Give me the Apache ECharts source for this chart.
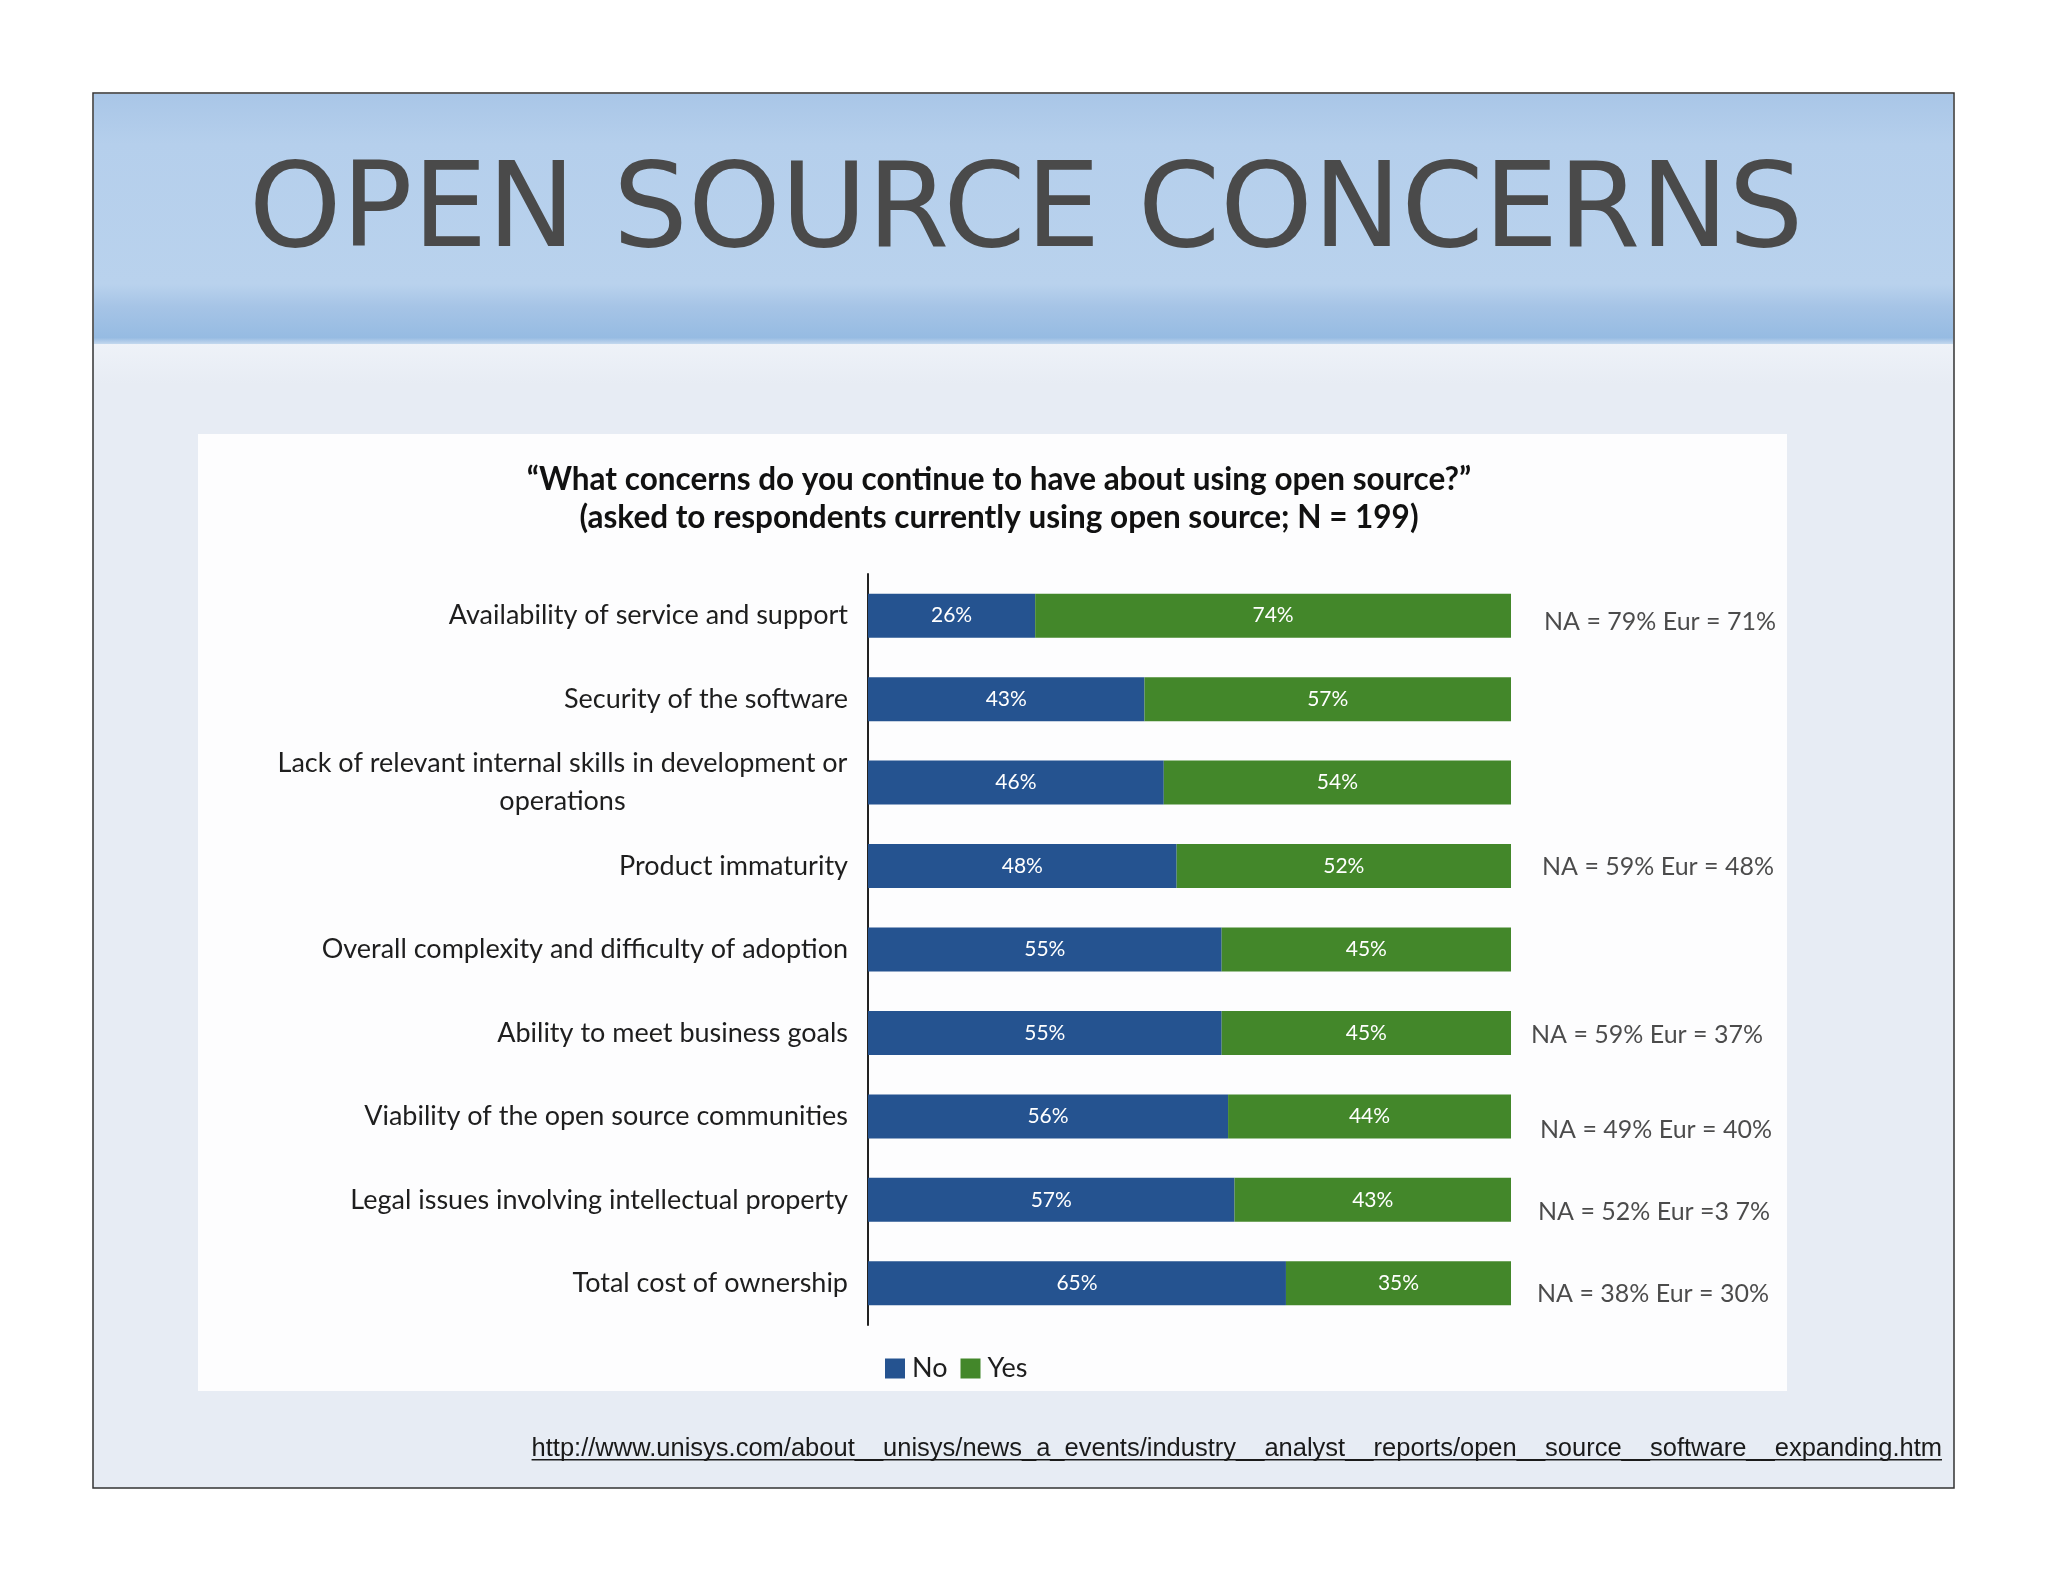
<!DOCTYPE html>
<html>
<head>
<meta charset="utf-8">
<script src="https://cdn.jsdelivr.net/npm/echarts@6/dist/echarts.min.js"></script>
<style>
  html, body { margin: 0; padding: 0; background: #ffffff; }
  #chart { width: 2048px; height: 1582px; }
</style>
</head>
<body>
<div id="chart"></div>
<script>
// ---- data ----
const slideTitle = 'OPEN SOURCE CONCERNS';
const chartTitleLines = [
  '\u201CWhat concerns do you continue to have about using open source?\u201D',
  '(asked to respondents currently using open source; N = 199)'
];
const categories = [
  'Availability of service and support',
  'Security of the software',
  'Lack of relevant internal skills in development or\noperations',
  'Product immaturity',
  'Overall complexity and difficulty of adoption',
  'Ability to meet business goals',
  'Viability of the open source communities',
  'Legal issues involving intellectual property',
  'Total cost of ownership'
];
const noValues = [26, 43, 46, 48, 55, 55, 56, 57, 65];
const yesValues = [74, 57, 54, 52, 45, 45, 44, 43, 35];
const regionNotes = [
  'NA = 79% Eur = 71%',
  '',
  '',
  'NA = 59% Eur = 48%',
  '',
  'NA = 59% Eur = 37%',
  'NA = 49% Eur = 40%',
  'NA = 52% Eur =3 7%',
  'NA = 38% Eur = 30%'
];
const sourceUrl = 'http://www.unisys.com/about__unisys/news_a_events/industry__analyst__reports/open__source__software__expanding.htm';

// ---- styling helpers (positions / styles only) ----
const noteNudge = [[3, 6], [0, 0], [0, 0], [1, 1], [0, 0], [-10, 2], [-1, 14], [-3, 12], [-4, 11]];
const FONT = 'Lato, "Open Sans", sans-serif';
const LABEL_SIZE = 27;
const BLUE = '#255390';
const GREEN = '#43872a';
const TXT = '#1e1e1e';

const urlFont = '25.5px "Liberation Sans", Arial, sans-serif';
const mc = document.createElement('canvas').getContext('2d');
mc.font = urlFont;
const urlWidth = mc.measureText(sourceUrl).width;
mc.font = LABEL_SIZE + 'px ' + FONT;
let multiLineWidth = 0;
categories.forEach(function (c) {
  if (c.indexOf('\n') >= 0) {
    c.split('\n').forEach(function (l) { multiLineWidth = Math.max(multiLineWidth, mc.measureText(l).width); });
  }
});
multiLineWidth = Math.ceil(multiLineWidth) + 1;

const chart = echarts.init(document.getElementById('chart'), null, { renderer: 'canvas' });

const option = {
  animation: false,
  backgroundColor: '#ffffff',
  graphic: [
    { type: 'rect', z: -10, shape: { x: 93, y: 93, width: 1861, height: 1395 },
      style: { fill: '#e7ecf4', stroke: '#333333', lineWidth: 1.5 } },
    { type: 'rect', z: -9, shape: { x: 94, y: 344, width: 1859, height: 40 },
      style: { fill: new echarts.graphic.LinearGradient(0, 0, 0, 1, [
        { offset: 0, color: '#eef2f8' },
        { offset: 1, color: '#e7ecf4' }
      ]) } },
    { type: 'rect', z: -9, shape: { x: 94, y: 94, width: 1859, height: 250 },
      style: { fill: new echarts.graphic.LinearGradient(0, 0, 0, 1, [
        { offset: 0, color: '#a9c6e7' },
        { offset: 0.2, color: '#b5cfec' },
        { offset: 0.76, color: '#b9d2ed' },
        { offset: 0.85, color: '#a6c4e6' },
        { offset: 0.975, color: '#96bbe2' },
        { offset: 1, color: '#c4d8ee' }
      ]) } },
    { type: 'rect', z: -8, shape: { x: 198, y: 434, width: 1589, height: 957 },
      style: { fill: '#fdfdfe' } },
    { type: 'text', z: 5, x: 1026, y: 215,
      style: { text: slideTitle, fill: '#4a4a4a', font: 'normal 118px "DejaVu Sans", Lato, sans-serif',
        textAlign: 'center', textVerticalAlign: 'middle' } },
    { type: 'text', z: 5, x: 999, y: 479.5,
      style: { text: chartTitleLines[0], fill: '#111111', font: 'bold 31.5px Lato, "Open Sans", sans-serif',
        textAlign: 'center', textVerticalAlign: 'middle' } },
    { type: 'text', z: 5, x: 999, y: 517.5,
      style: { text: chartTitleLines[1], fill: '#111111', font: 'bold 31.5px Lato, "Open Sans", sans-serif',
        textAlign: 'center', textVerticalAlign: 'middle' } },
    { type: 'text', z: 5, x: 1942, y: 1449,
      style: { text: sourceUrl, fill: '#1a1a1a', font: urlFont,
        textAlign: 'right', textVerticalAlign: 'middle' } },
    { type: 'rect', z: 5, shape: { x: 1942 - urlWidth, y: 1459, width: urlWidth, height: 1.6 },
      style: { fill: '#1a1a1a' } }
  ],
  legend: {
    data: ['No', 'Yes'],
    left: 880, top: 1350,
    icon: 'rect', itemWidth: 20, itemHeight: 20, itemGap: 13,
    textStyle: { fontFamily: FONT, fontSize: 27, color: TXT, padding: [0, 0, 0, 2] }
  },
  grid: { left: 868, right: 537, top: 574, bottom: 257, containLabel: false },
  xAxis: { type: 'value', min: 0, max: 100, show: false },
  yAxis: {
    type: 'category', data: categories, inverse: true,
    axisLine: { show: true, lineStyle: { color: '#222222', width: 2 } },
    axisTick: { show: false },
    axisLabel: {
      margin: 20, fontFamily: FONT, fontSize: LABEL_SIZE, color: TXT,
      formatter: function (v) {
        if (v.indexOf('\n') >= 0) {
          return v.split('\n').map(function (l) { return '{c|' + l + '}'; }).join('\n');
        }
        return v;
      },
      rich: { c: { width: multiLineWidth, align: 'center', fontFamily: FONT, fontSize: LABEL_SIZE, color: TXT, lineHeight: 38 } }
    }
  },
  series: [
    {
      name: 'No', type: 'bar', stack: 'total', data: noValues, barWidth: 44,
      itemStyle: { color: BLUE },
      label: { show: true, position: 'inside', formatter: '{c}%', color: '#ffffff', fontFamily: FONT, fontSize: 21 }
    },
    {
      name: 'Yes', type: 'bar', stack: 'total', data: yesValues, barWidth: 44,
      itemStyle: { color: GREEN },
      label: { show: true, position: 'inside', formatter: '{c}%', color: '#ffffff', fontFamily: FONT, fontSize: 21 }
    },
    {
      name: 'notes', type: 'scatter', symbolSize: 0, silent: true,
      data: categories.map(function (c, i) {
        return {
          value: [noValues[i] + yesValues[i], c],
          label: { offset: noteNudge[i] }
        };
      }),
      label: {
        show: true, position: 'right', distance: 30,
        fontFamily: FONT, fontSize: 25, color: TXT,
        formatter: function (p) { return regionNotes[p.dataIndex]; }
      }
    }
  ]
};
chart.setOption(option);
</script>
</body>
</html>
